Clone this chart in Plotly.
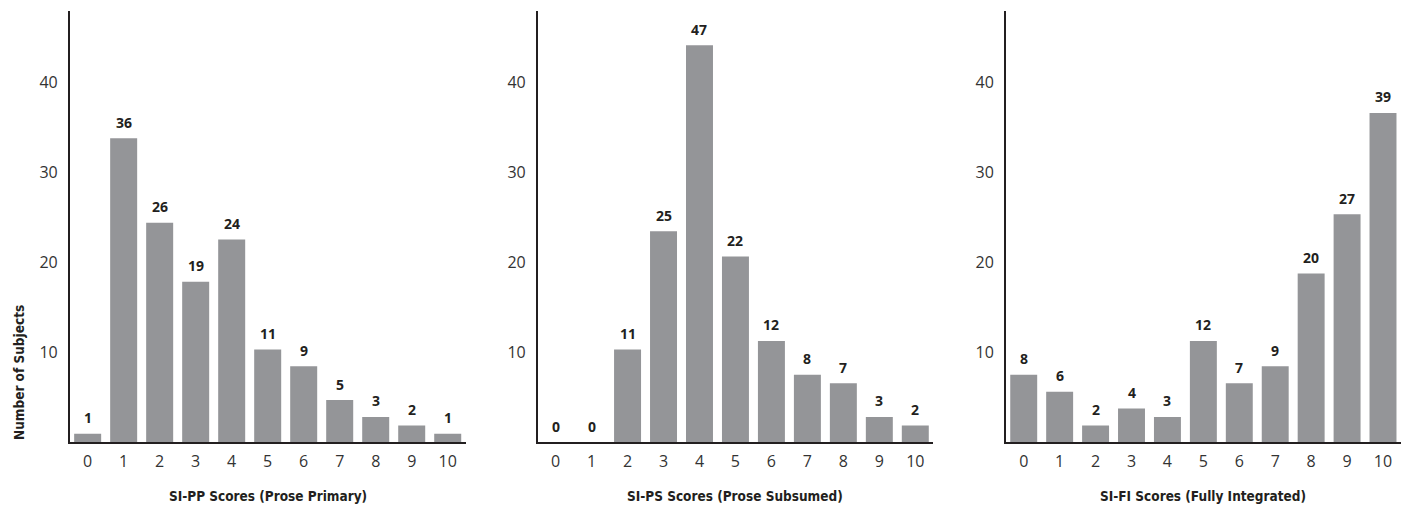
import plotly.graph_objects as go

scores = list(range(11))
score_labels = [str(s) for s in scores]

pp_counts = [1, 36, 26, 19, 24, 11, 9, 5, 3, 2, 1]
ps_counts = [0, 0, 11, 25, 47, 22, 12, 8, 7, 3, 2]
fi_counts = [8, 6, 2, 4, 3, 12, 7, 9, 20, 27, 39]

panel_titles = [
    "SI-PP Scores (Prose Primary)",
    "SI-PS Scores (Prose Subsumed)",
    "SI-FI Scores (Fully Integrated)",
]
y_title = "Number of Subjects"
y_tick_labels = [10, 20, 30, 40]
# printed axis scale in the source runs ~6% above the bar counts
axis_cal = 0.938

BAR = "#949598"
INK = "#231f20"
COND = "DejaVu Sans Condensed, Liberation Sans Narrow, Arial Narrow, sans-serif"
TICK_FONT = dict(family="Open Sans, Noto Sans, sans-serif", size=16, color="#333333")
LABEL_FONT = dict(family="Open Sans, sans-serif", size=14, color=INK, weight="bold")
TITLE_FONT = dict(family=COND, size=13.5, color=INK, weight="bold")

x_domains = [[0.0494, 0.3303], [0.3813, 0.6619], [0.7133, 0.9936]]
y_domain = [0.1293, 0.9789]

fig = go.Figure()
annotations = []
series = [pp_counts, ps_counts, fi_counts]
for i, counts in enumerate(series):
    xa = "x" if i == 0 else f"x{i+1}"
    ya = "y" if i == 0 else f"y{i+1}"
    fig.add_trace(go.Bar(
        x=scores, y=counts, xaxis=xa, yaxis=ya,
        marker=dict(color=BAR, line=dict(width=0)),
        width=0.75, showlegend=False, hoverinfo="x+y",
    ))
    for s, c in zip(scores, counts):
        annotations.append(dict(
            x=s, y=c, xref=xa, yref=ya, text=str(c), showarrow=False,
            yanchor="middle", yshift=16, font=LABEL_FONT,
        ))
    annotations.append(dict(
        x=sum(x_domains[i]) / 2, y=1 - 495.5 / 508, xref="paper", yref="paper",
        text=panel_titles[i], showarrow=False, xanchor="center", yanchor="middle",
        font=TITLE_FONT,
    ))
    key = "" if i == 0 else str(i + 1)
    fig.update_layout(**{
        f"xaxis{key}": dict(
            domain=x_domains[i], range=[-0.5, 10.5], anchor=ya,
            tickmode="array", tickvals=scores, ticktext=score_labels,
            showline=True, linecolor=INK, linewidth=1.5, showgrid=False,
            zeroline=False, ticks="", tickfont=TICK_FONT, fixedrange=True,
            ticklabelstandoff=4,
        ),
        f"yaxis{key}": dict(
            domain=y_domain, range=[0, 51.1], anchor=xa,
            tickmode="array", tickvals=[t / axis_cal for t in y_tick_labels],
            ticktext=[str(t) for t in y_tick_labels],
            showline=True, linecolor=INK, linewidth=1.5, showgrid=False,
            zeroline=False, ticks="", tickfont=TICK_FONT, fixedrange=True,
            ticklabelstandoff=7,
        ),
    })

annotations.append(dict(
    x=19 / 1410, y=1 - 373 / 508, xref="paper", yref="paper", text=y_title,
    textangle=-90, showarrow=False, xanchor="center", yanchor="middle",
    font=dict(family=COND, size=13.5, color=INK, weight="bold"),
))

fig.update_layout(
    width=1410, height=508,
    margin=dict(l=0, r=0, t=0, b=0),
    paper_bgcolor="white", plot_bgcolor="white",
    bargap=0.25, annotations=annotations,
)

fig.write_html(
    "out.html",
    config={"displayModeBar": False},
    post_script="document.body.style.margin='0';document.body.style.overflow='hidden';",
)
